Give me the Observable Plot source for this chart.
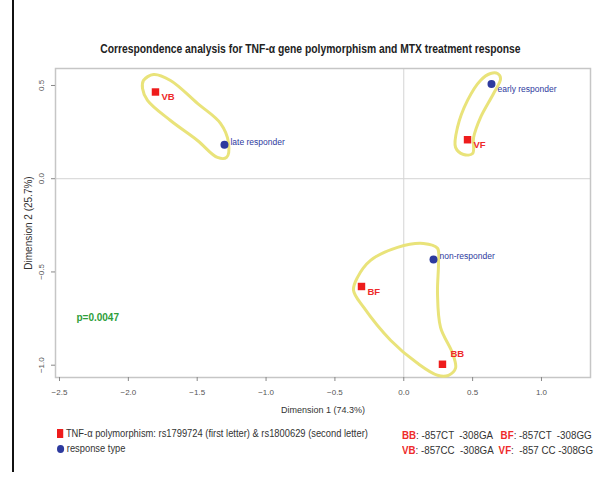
<!DOCTYPE html>
<html>
<head>
<meta charset="utf-8">
<script src="https://cdn.jsdelivr.net/npm/d3@7"></script>
<script src="https://cdn.jsdelivr.net/npm/@observablehq/plot@0.6"></script>
<style>
  html, body { margin: 0; padding: 0; background: #fff; }
  #wrap { position: relative; width: 599px; height: 477px; overflow: hidden; font-family: "Liberation Sans", Arial, sans-serif; }
  #border { position: absolute; left: 12px; top: 0; width: 2px; height: 472px; background: #111; }
  #title { position: absolute; left: 0; width: 620px; top: 39px; text-align: center; }
  #title span { display: inline-block; font-size: 12px; font-weight: bold; color: #222; transform: scaleX(0.86); transform-origin: center; white-space: nowrap; }
  #chart { position: absolute; left: 0; top: 0; }
  .leg { position: absolute; font-size: 10.5px; color: #333; white-space: nowrap; transform-origin: left center; }
  .red { color: #ee2a2a; font-weight: bold; }
  .sq { display: inline-block; width: 7px; height: 9px; background: #ee1c1c; margin-right: 3px; vertical-align: -1px; }
  .dot { display: inline-block; width: 8px; height: 8px; border-radius: 50%; background: #2d3a9e; margin-right: 3px; vertical-align: -1px; }
</style>
</head>
<body>
<div id="wrap">
  <div id="border"></div>
  <div id="title"><span>Correspondence analysis for TNF-α gene polymorphism and MTX treatment response</span></div>
  <div id="chart"></div>
  <div class="leg" style="left:57px; top:427px; transform: scaleX(0.89);"><span class="sq"></span>TNF-α polymorphism: rs1799724 (first letter) &amp; rs1800629 (second letter)</div>
  <div class="leg" style="left:57px; top:442px; transform: scaleX(0.89);"><span class="dot"></span>response type</div>
  <div class="leg" style="left:402px; top:429px; transform: scaleX(0.93);"><span class="red">BB</span>: -857CT &nbsp;-308GA &nbsp;&nbsp;<span class="red">BF</span>: -857CT &nbsp;-308GG</div>
  <div class="leg" style="left:402px; top:444px; transform: scaleX(0.93);"><span class="red">VB</span>: -857CC &nbsp;-308GA &nbsp;<span class="red">VF</span>: &nbsp;-857 CC -308GG</div>
</div>
<script>
// Genotype points (red squares)
const genotypes = ["VB", "VF", "BF", "BB"];
const genoX = [-1.803, 0.463, -0.307, 0.281];
const genoY = [0.465, 0.209, -0.578, -0.995];

// Response type points (blue circles)
const responses = ["late responder", "early responder", "non-responder"];
const respX = [-1.302, 0.637, 0.216];
const respY = [0.182, 0.508, -0.433];

// Hand-drawn yellow outlines (data units)
const groupVB = [[-1.890,0.527],[-1.817,0.559],[-1.694,0.527],[-1.498,0.404],[-1.331,0.297],[-1.273,0.194],[-1.287,0.114],[-1.353,0.114],[-1.498,0.205],[-1.694,0.312],[-1.861,0.420],[-1.897,0.484]];
const groupVF = [[0.681,0.564],[0.703,0.537],[0.652,0.457],[0.557,0.328],[0.507,0.221],[0.500,0.135],[0.434,0.130],[0.376,0.168],[0.390,0.275],[0.463,0.420],[0.557,0.527],[0.630,0.564]];
const groupBB = [[-0.336,-0.529],[-0.241,-0.438],[-0.045,-0.368],[0.143,-0.347],[0.245,-0.373],[0.252,-0.454],[0.245,-0.614],[0.267,-0.797],[0.354,-0.936],[0.376,-1.016],[0.325,-1.054],[0.245,-1.054],[0.100,-0.990],[-0.096,-0.866],[-0.292,-0.689],[-0.365,-0.598]];

const xTicks = [-2.5, -2.0, -1.5, -1.0, -0.5, 0.0, 0.5, 1.0];
const yTicks = [0.5, 0.0, -0.5, -1.0];
const xTitle = "Dimension 1 (74.3%)";
const yTitle = "Dimension 2 (25.7%)";
const pValue = "p=0.0047";

const geno = genotypes.map((n, i) => ({name: n, x: genoX[i], y: genoY[i]}));
const resp = responses.map((n, i) => ({name: n, x: respX[i], y: respY[i]}));
const outlines = [["VB", groupVB], ["VF", groupVF], ["BB", groupBB]]
  .flatMap(([g, pts]) => pts.map(([x, y]) => ({g, x, y})));

const plot = Plot.plot({
  width: 599,
  height: 477,
  marginLeft: 55,
  marginRight: 9,
  marginTop: 68,
  marginBottom: 100,
  style: {fontFamily: "'Liberation Sans',Arial,sans-serif", background: "transparent"},
  x: {domain: [-2.529, 1.356]},
  y: {domain: [-1.066, 0.591]},
  marks: [
    Plot.ruleX([0], {stroke: "#d4d4d4", strokeWidth: 1}),
    Plot.ruleY([0], {stroke: "#d4d4d4", strokeWidth: 1}),
    Plot.frame({stroke: "#c6c6c6", strokeWidth: 1.5}),
    Plot.line(outlines, {x: "x", y: "y", z: "g", curve: "catmull-rom-closed", stroke: "#e9e37a", strokeWidth: 3}),
    Plot.axisX({ticks: xTicks, tickFormat: d3.format(".1f"), tickSize: 4, tickPadding: 8, fontSize: 8, stroke: "#888", color: "#555", label: null}),
    Plot.axisY({ticks: yTicks, tickFormat: d3.format(".1f"), tickSize: 4, tickPadding: 8, tickRotate: -90, fontSize: 8, stroke: "#888", color: "#555", label: null}),
    Plot.text([xTitle], {frameAnchor: "bottom", text: d => d, textAnchor: "middle", dy: 35, fontSize: 9, fill: "#333"}),
    Plot.text([yTitle], {frameAnchor: "left", text: d => d, textAnchor: "middle", rotate: -90, dx: -27, fontSize: 10, fill: "#333"}),
    Plot.dot(geno, {x: "x", y: "y", symbol: "square", r: 4.2, fill: "#ee1c1c"}),
    Plot.text(geno, {filter: d => d.name !== "BB", x: "x", y: "y", text: "name", textAnchor: "start", dx: 6, dy: 5, fill: "#ee2a2a", fontWeight: "bold", fontSize: 9.5}),
    Plot.text(geno, {filter: d => d.name === "BB", x: "x", y: "y", text: "name", textAnchor: "start", dx: 8, dy: -10, fill: "#ee2a2a", fontWeight: "bold", fontSize: 9.5}),
    Plot.dot(resp, {x: "x", y: "y", r: 4, fill: "#2d3a9e"}),
    Plot.text(resp, {filter: d => d.name !== "early responder", x: "x", y: "y", text: "name", textAnchor: "start", dx: 6, dy: -3, fill: "#2d3a9e", fontSize: 8.5}),
    Plot.text(resp, {filter: d => d.name === "early responder", x: "x", y: "y", text: "name", textAnchor: "start", dx: 6, dy: 5, fill: "#2d3a9e", fontSize: 8.5}),
    Plot.text([pValue], {x: -2.377, y: -0.748, text: d => d, textAnchor: "start", fill: "#2e9e3a", fontWeight: "bold", fontSize: 10})
  ]
});
document.getElementById("chart").appendChild(plot);
</script>
</body>
</html>
